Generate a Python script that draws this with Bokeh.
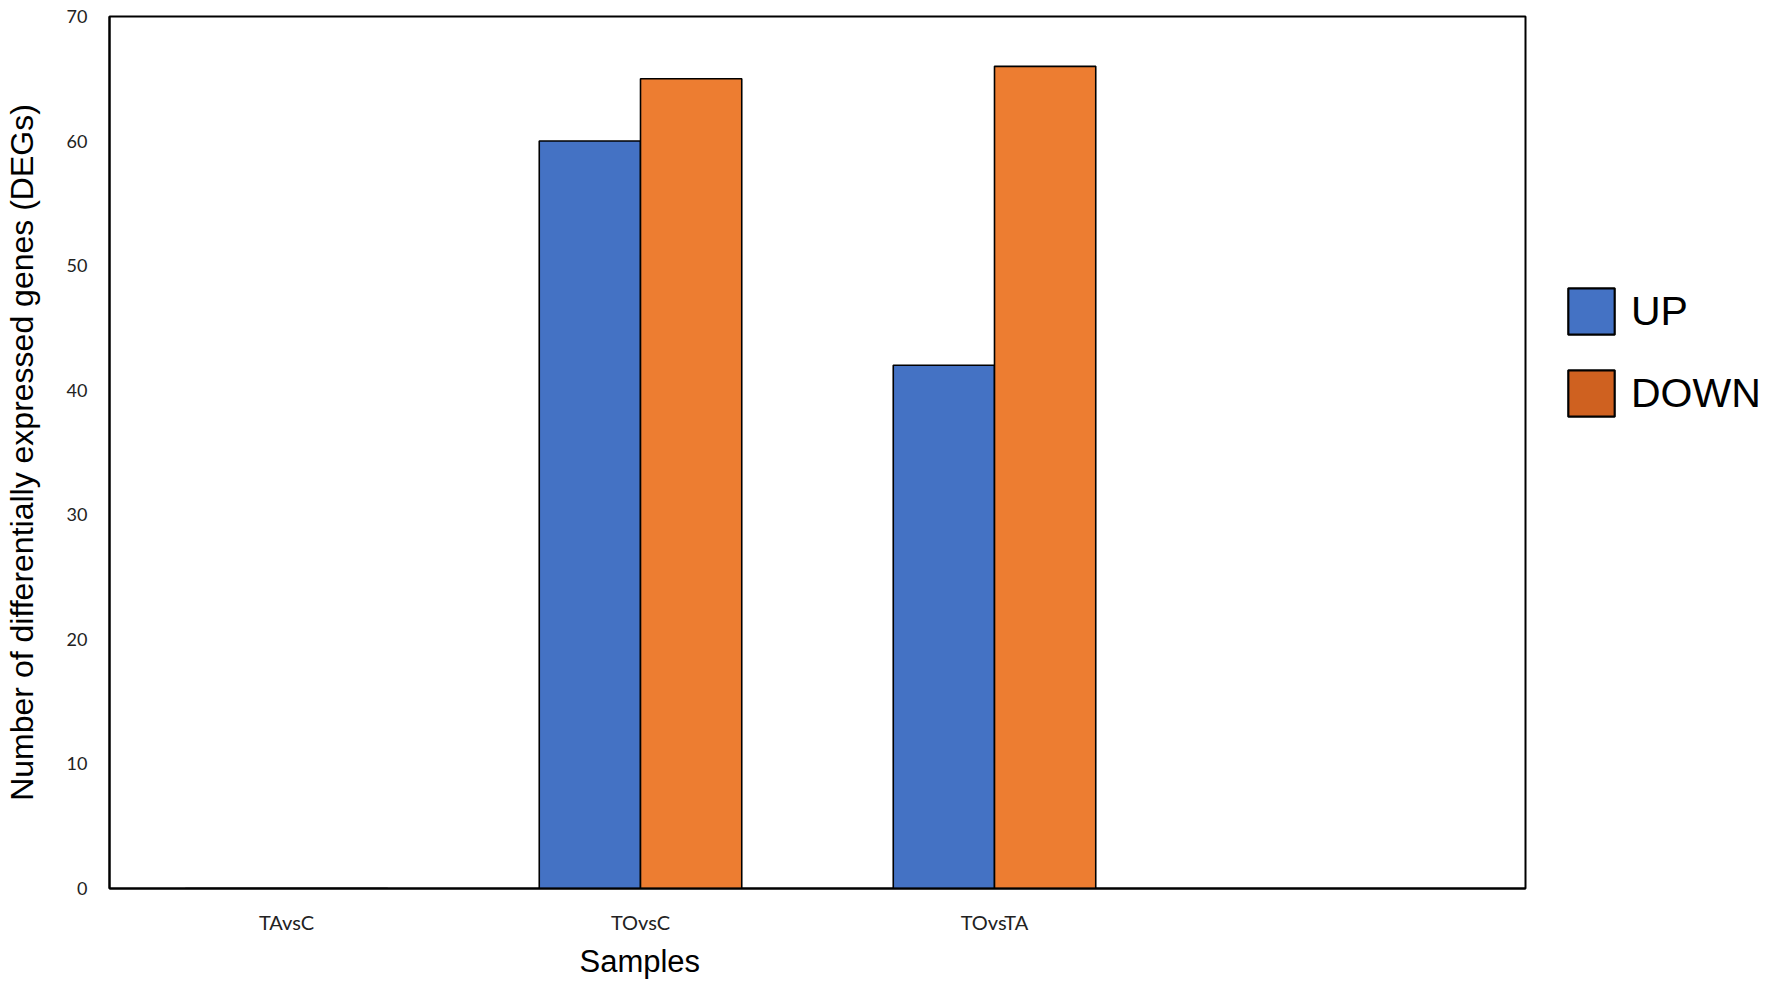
from bokeh.plotting import figure
from bokeh.layouts import row
from bokeh.models import ColumnDataSource, FactorRange, Range1d, Legend, LegendItem, Title
from bokeh.transform import dodge
from bokeh.embed import file_html
from bokeh.resources import INLINE

# ---- data ----
axis_factors = ["TAvsC", "TOvsC", "TOvsTA", " "]
samples = ["TAvsC", "TOvsC", "TOvsTA"]
up_values = [0, 60, 42]
down_values = [0, 65, 66]
series_names = ["UP", "DOWN"]
y_ticks = [0, 10, 20, 30, 40, 50, 60, 70]

BLUE = "#4472C4"
ORANGE = "#ED7D31"
ORANGE_KEY = "#CF6120"

H = 990

src = ColumnDataSource(dict(cat=samples, up=up_values, down=down_values))

p = figure(
    width=1527, height=H,
    x_range=FactorRange(factors=axis_factors, factor_padding=0, range_padding=0),
    y_range=Range1d(0, 70),
    output_backend="svg", toolbar_location=None,
    min_border_left=101, min_border_right=2, min_border_top=16, min_border_bottom=102,
)
p.background_fill_color = "white"
p.border_fill_color = "white"
p.outline_line_color = "black"
p.outline_line_width = 2
p.xgrid.visible = False
p.ygrid.visible = False

bw = 0.286
p.vbar(x=dodge("cat", -bw / 2, range=p.x_range), top="up", width=bw, source=src,
       fill_color=BLUE, line_color="black", line_width=1.6)
p.vbar(x=dodge("cat", bw / 2, range=p.x_range), top="down", width=bw, source=src,
       fill_color=ORANGE, line_color="black", line_width=1.6)

# axes
p.yaxis.ticker = y_ticks
p.yaxis.axis_label = "Number of differentially expressed genes (DEGs)"
p.yaxis.axis_label_text_font = "Liberation Sans"
p.yaxis.axis_label_text_font_size = "32px"
p.yaxis.axis_label_text_font_style = "normal"
p.yaxis.axis_label_text_color = "black"
p.yaxis.axis_label_standoff = 24
p.yaxis.major_label_text_font = "Lato"
p.yaxis.major_label_text_font_size = "18px"
p.yaxis.major_label_text_color = "#222222"
p.yaxis.major_label_standoff = 22

for ax in (p.xaxis, p.yaxis):
    ax.axis_line_color = "black"
    ax.axis_line_width = 2
    ax.major_tick_line_color = None
    ax.minor_tick_line_color = None
    ax.major_tick_out = 0
    ax.major_tick_in = 0
    ax.minor_tick_out = 0

p.xaxis.major_label_text_font = "Lato"
p.xaxis.major_label_text_font_size = "20px"
p.xaxis.major_label_text_color = "#222222"
p.xaxis.major_label_standoff = 21

p.add_layout(Title(text="Samples", align="left", offset=470,
                   text_font="Liberation Sans", text_font_size="31px",
                   text_font_style="normal", text_color="black", standoff=11), "below")

# ---- legend panel (separate figure on the right) ----
q = figure(width=237, height=H, x_range=Range1d(0, 1), y_range=Range1d(0, 1),
           x_axis_location=None, y_axis_location=None,
           output_backend="svg", toolbar_location=None,
           min_border_left=0, min_border_right=0, min_border_top=0, min_border_bottom=0)
q.outline_line_color = None
q.grid.visible = False
q.background_fill_color = "white"
q.border_fill_color = "white"

key_src = ColumnDataSource(dict(x=[0.5], top=[0.5]))
r_up = q.vbar(x="x", top="top", width=0.1, source=key_src,
              fill_color=BLUE, line_color="black", line_width=2.2)
r_down = q.vbar(x="x", top="top", width=0.1, source=key_src,
                fill_color=ORANGE_KEY, line_color="black", line_width=2.2)
r_up.visible = False
r_down.visible = False

legend = Legend(items=[LegendItem(label=series_names[0], renderers=[r_up]),
                       LegendItem(label=series_names[1], renderers=[r_down])],
                location=(35, 466))
legend.inactive_fill_alpha = 0
legend.border_line_color = None
legend.background_fill_alpha = 0
legend.padding = 0
legend.margin = 0
legend.spacing = 24
legend.glyph_width = 58
legend.glyph_height = 58
legend.label_height = 58
legend.label_standoff = 11
legend.label_text_font = "Liberation Sans"
legend.label_text_font_size = "41px"
legend.label_text_color = "black"
q.add_layout(legend, "center")

layout = row(p, q, spacing=0)
open("out.html", "w").write(file_html(layout, INLINE))
